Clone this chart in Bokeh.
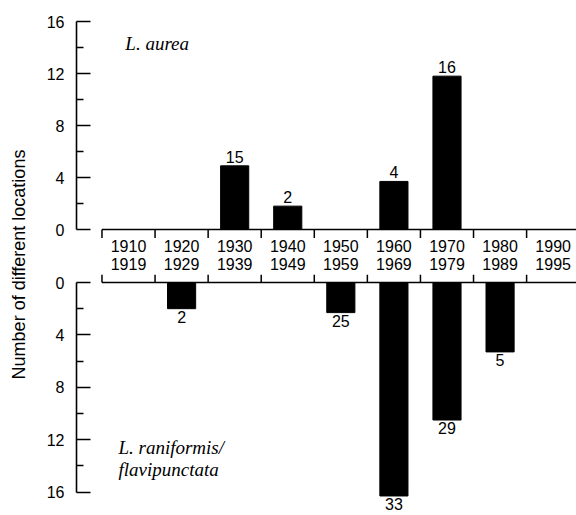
import math
from bokeh.plotting import figure
from bokeh.layouts import row, column
from bokeh.models import Range1d, FixedTicker, ColumnDataSource, Label
from bokeh.core.properties import value
from bokeh.embed import file_html
from bokeh.resources import INLINE

# ---------------- data ----------------
decade_start = ["1910", "1920", "1930", "1940", "1950", "1960", "1970", "1980", "1990"]
decade_end = ["1919", "1929", "1939", "1949", "1959", "1969", "1979", "1989", "1995"]
aurea_values = [0, 0, 4.9, 1.8, 0, 3.7, 11.8, 0, 0]
aurea_counts = [0, 0, 15, 2, 0, 4, 16, 0, 0]
rani_values = [0, 2.0, 0, 0, 2.3, 16.3, 10.5, 5.3, 0]
rani_counts = [0, 2, 0, 0, 25, 33, 29, 5, 0]
y_ticks = [0, 4, 8, 12, 16]
y_minor = [2, 6, 10, 14]

SANS = "Liberation Sans"
SERIF = "Liberation Serif"

idx = list(range(len(decade_start)))
bounds_x = [i - 0.5 for i in idx]

x_range = Range1d(-0.98, 8.44)
COL_W = 540


def style_axis(p):
    ax = p.yaxis[0]
    ax.ticker = FixedTicker(ticks=y_ticks, minor_ticks=y_minor)
    ax.bounds = (min(y_ticks), max(y_ticks))
    ax.major_tick_in = 14
    ax.major_tick_out = 0
    ax.minor_tick_in = 7
    ax.minor_tick_out = 0
    ax.major_tick_line_width = 1.5
    ax.minor_tick_line_width = 1.5
    ax.axis_line_width = 1.6
    ax.axis_line_color = "black"
    ax.major_tick_line_color = "black"
    ax.minor_tick_line_color = "black"
    ax.major_label_standoff = 12
    ax.major_label_text_font = SANS
    ax.major_label_text_font_size = "16px"
    ax.major_label_text_color = "black"


def base_fig(height, y_range, top_border):
    p = figure(width=COL_W, height=height, x_range=x_range, y_range=y_range,
               output_backend="svg", toolbar_location=None, x_axis_type=None,
               min_border_left=40, min_border_right=0,
               min_border_top=top_border, min_border_bottom=0)
    p.grid.visible = False
    p.outline_line_color = None
    p.background_fill_color = "white"
    p.border_fill_color = "white"
    return p


def bars(p, values, counts, below):
    xs = [i for i, v in zip(idx, values) if v > 0]
    vs = [v for v in values if v > 0]
    cs = [str(c) for c, v in zip(counts, values) if v > 0]
    src = ColumnDataSource(dict(x=xs, v=vs, label=cs))
    p.vbar(x="x", top="v", bottom=0, width=0.53, source=src,
           fill_color="black", line_color="black")
    p.text(x="x", y="v", text="label", source=src, text_align="center",
           text_baseline="top" if below else "bottom",
           y_offset=2 if below else -3,
           text_font=value(SANS), text_font_size="16px", text_color="black")


def band_edge(p, tick_end):
    # long line along the decade band and short dividers
    p.segment(x0=[bounds_x[0]], x1=[bounds_x[-1] + 1], y0=[0], y1=[0],
              line_color="black", line_width=1.6)
    p.segment(x0=bounds_x, x1=bounds_x, y0=[0] * len(bounds_x),
              y1=[tick_end] * len(bounds_x), line_color="black", line_width=1.5)


# ---------------- top panel: L. aurea ----------------
top_range = Range1d(-0.69, 16.85)
top = base_fig(238, top_range, 10)
style_axis(top)
bars(top, aurea_values, aurea_counts, below=False)
band_edge(top, top_range.start)
top.text(x=[-0.06], y=[14.3], text=["L. aurea"], text_align="left",
         text_baseline="alphabetic", text_font=value(SERIF),
         text_font_style="italic", text_font_size="19px", text_color="black")

# ---------------- decade band ----------------
band = figure(width=COL_W, height=36, x_range=x_range, y_range=Range1d(0, 36),
              output_backend="svg", toolbar_location=None,
              x_axis_type=None, y_axis_type=None,
              min_border_left=40, min_border_right=0,
              min_border_top=0, min_border_bottom=0)
band.grid.visible = False
band.outline_line_color = None
band.text(x=idx, y=[29] * len(idx), text=decade_start, text_align="center",
          text_baseline="middle", text_font=value(SANS), text_font_size="16px",
          text_color="black")
band.text(x=idx, y=[11] * len(idx), text=decade_end, text_align="center",
          text_baseline="middle", text_font=value(SANS), text_font_size="16px",
          text_color="black")

# ---------------- bottom panel: L. raniformis/flavipunctata ----------------
bot_range = Range1d(start=17.79, end=-0.61)
bot = base_fig(241, bot_range, 0)
style_axis(bot)
bars(bot, rani_values, rani_counts, below=True)
band_edge(bot, bot_range.end)
bot.text(x=[-0.19, -0.19], y=[12.6, 14.27], text=["L. raniformis/", "flavipunctata"],
         text_align="left", text_baseline="alphabetic", text_font=value(SERIF),
         text_font_style="italic", text_font_size="19px", text_color="black")

# ---------------- y-axis title ----------------
lab = figure(width=36, height=515, x_range=Range1d(0, 36), y_range=Range1d(0, 515),
             output_backend="svg", toolbar_location=None,
             x_axis_type=None, y_axis_type=None, min_border=0)
lab.grid.visible = False
lab.outline_line_color = None
lab.add_layout(Label(x=18, y=251, text="Number of different locations",
                     angle=math.pi / 2, text_align="center", text_baseline="middle",
                     text_font=SANS, text_font_size="18px", text_color="black"))

layout = row(lab, column(top, band, bot, spacing=0), spacing=0)

with open("out.html", "w") as f:
    f.write(file_html(layout, INLINE))
